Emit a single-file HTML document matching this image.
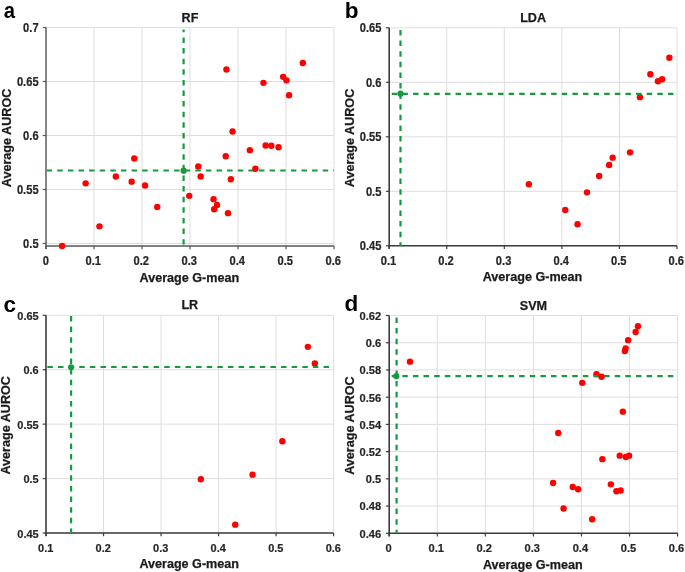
<!DOCTYPE html>
<html><head><meta charset="utf-8"><title>Scatter plots</title>
<style>
html,body{margin:0;padding:0;background:#fff;}
svg{display:block;will-change:transform;}
text{font-family:"Liberation Sans", sans-serif;font-weight:bold;fill:#1a1a1a;}
.t{fill:#262626;stroke:#262626;stroke-width:0.2px;}
.h{font-size:12.6px;stroke:#1a1a1a;stroke-width:0.25px;}
.L{font-size:22.5px;fill:#000;}
</style></head><body>
<svg width="685" height="572" viewBox="0 0 685 572">
<rect width="685" height="572" fill="#fff"/>
<line x1="94" y1="27.5" x2="94" y2="246" stroke="#dedede" stroke-width="1"/>
<line x1="142" y1="27.5" x2="142" y2="246" stroke="#dedede" stroke-width="1"/>
<line x1="190" y1="27.5" x2="190" y2="246" stroke="#dedede" stroke-width="1"/>
<line x1="238" y1="27.5" x2="238" y2="246" stroke="#dedede" stroke-width="1"/>
<line x1="286" y1="27.5" x2="286" y2="246" stroke="#dedede" stroke-width="1"/>
<line x1="334" y1="27.5" x2="334" y2="246" stroke="#dedede" stroke-width="1"/>
<line x1="46" y1="243.5" x2="334" y2="243.5" stroke="#dedede" stroke-width="1"/>
<line x1="46" y1="189.5" x2="334" y2="189.5" stroke="#dedede" stroke-width="1"/>
<line x1="46" y1="135.5" x2="334" y2="135.5" stroke="#dedede" stroke-width="1"/>
<line x1="46" y1="81.5" x2="334" y2="81.5" stroke="#dedede" stroke-width="1"/>
<line x1="46" y1="27.5" x2="334" y2="27.5" stroke="#dedede" stroke-width="1"/>
<line x1="46" y1="27.5" x2="46" y2="249" stroke="#575757" stroke-width="1.45"/>
<line x1="45.2" y1="246" x2="334" y2="246" stroke="#575757" stroke-width="1.45"/>
<line x1="42.7" y1="243.5" x2="46" y2="243.5" stroke="#575757" stroke-width="1.2"/>
<line x1="42.7" y1="189.5" x2="46" y2="189.5" stroke="#575757" stroke-width="1.2"/>
<line x1="42.7" y1="135.5" x2="46" y2="135.5" stroke="#575757" stroke-width="1.2"/>
<line x1="42.7" y1="81.5" x2="46" y2="81.5" stroke="#575757" stroke-width="1.2"/>
<line x1="42.7" y1="27.5" x2="46" y2="27.5" stroke="#575757" stroke-width="1.2"/>
<line x1="46" y1="246" x2="46" y2="249.2" stroke="#575757" stroke-width="1.2"/>
<line x1="94" y1="246" x2="94" y2="249.2" stroke="#575757" stroke-width="1.2"/>
<line x1="142" y1="246" x2="142" y2="249.2" stroke="#575757" stroke-width="1.2"/>
<line x1="190" y1="246" x2="190" y2="249.2" stroke="#575757" stroke-width="1.2"/>
<line x1="238" y1="246" x2="238" y2="249.2" stroke="#575757" stroke-width="1.2"/>
<line x1="286" y1="246" x2="286" y2="249.2" stroke="#575757" stroke-width="1.2"/>
<line x1="334" y1="246" x2="334" y2="249.2" stroke="#575757" stroke-width="1.2"/>
<circle cx="62.05" cy="246.05" r="3.2" fill="#ff0000"/>
<circle cx="85.65" cy="183.35" r="3.2" fill="#ff0000"/>
<circle cx="99.45" cy="226.35" r="3.2" fill="#ff0000"/>
<circle cx="115.85" cy="176.55" r="3.2" fill="#ff0000"/>
<circle cx="134.25" cy="158.45" r="3.2" fill="#ff0000"/>
<circle cx="131.65" cy="181.65" r="3.2" fill="#ff0000"/>
<circle cx="145.05" cy="185.55" r="3.2" fill="#ff0000"/>
<circle cx="157.25" cy="207.05" r="3.2" fill="#ff0000"/>
<circle cx="189.25" cy="195.85" r="3.2" fill="#ff0000"/>
<circle cx="198.25" cy="166.55" r="3.2" fill="#ff0000"/>
<circle cx="200.65" cy="176.55" r="3.2" fill="#ff0000"/>
<circle cx="225.75" cy="156.25" r="3.2" fill="#ff0000"/>
<circle cx="230.85" cy="179.25" r="3.2" fill="#ff0000"/>
<circle cx="213.55" cy="199.15" r="3.2" fill="#ff0000"/>
<circle cx="217.05" cy="205.05" r="3.2" fill="#ff0000"/>
<circle cx="214.15" cy="209.25" r="3.2" fill="#ff0000"/>
<circle cx="227.95" cy="213.15" r="3.2" fill="#ff0000"/>
<circle cx="249.85" cy="150.15" r="3.2" fill="#ff0000"/>
<circle cx="265.65" cy="145.55" r="3.2" fill="#ff0000"/>
<circle cx="271.35" cy="145.75" r="3.2" fill="#ff0000"/>
<circle cx="278.55" cy="147.25" r="3.2" fill="#ff0000"/>
<circle cx="226.45" cy="69.45" r="3.2" fill="#ff0000"/>
<circle cx="263.45" cy="82.85" r="3.2" fill="#ff0000"/>
<circle cx="283.15" cy="76.85" r="3.2" fill="#ff0000"/>
<circle cx="286.45" cy="80.35" r="3.2" fill="#ff0000"/>
<circle cx="302.85" cy="63.05" r="3.2" fill="#ff0000"/>
<circle cx="289.05" cy="95.25" r="3.2" fill="#ff0000"/>
<circle cx="232.55" cy="131.45" r="3.2" fill="#ff0000"/>
<line x1="183.6" y1="29.5" x2="183.6" y2="244.5" stroke="#17993f" stroke-width="2.2" stroke-dasharray="5.5 5.119999999999999" stroke-dashoffset="2.72"/>
<line x1="46.6" y1="170.5" x2="334" y2="170.5" stroke="#17993f" stroke-width="2.2" stroke-dasharray="5.5 5.119999999999999" stroke-dashoffset="0.00"/>
<circle cx="183.6" cy="170.7" r="3.1" fill="#17993f"/>
<circle cx="255.35" cy="168.75" r="3.2" fill="#ff0000"/>
<text transform="translate(38.6,247.8) scale(0.93,1)" text-anchor="end" class="t" font-size="12">0.5</text>
<text transform="translate(38.6,193.8) scale(0.93,1)" text-anchor="end" class="t" font-size="12">0.55</text>
<text transform="translate(38.6,139.8) scale(0.93,1)" text-anchor="end" class="t" font-size="12">0.6</text>
<text transform="translate(38.6,85.8) scale(0.93,1)" text-anchor="end" class="t" font-size="12">0.65</text>
<text transform="translate(38.6,31.8) scale(0.93,1)" text-anchor="end" class="t" font-size="12">0.7</text>
<text transform="translate(45.9,264.6) scale(0.93,1)" text-anchor="middle" class="t" font-size="12">0</text>
<text transform="translate(93.3,264.6) scale(0.93,1)" text-anchor="middle" class="t" font-size="12">0.1</text>
<text transform="translate(141.3,264.6) scale(0.93,1)" text-anchor="middle" class="t" font-size="12">0.2</text>
<text transform="translate(189.3,264.6) scale(0.93,1)" text-anchor="middle" class="t" font-size="12">0.3</text>
<text transform="translate(237.3,264.6) scale(0.93,1)" text-anchor="middle" class="t" font-size="12">0.4</text>
<text transform="translate(285.3,264.6) scale(0.93,1)" text-anchor="middle" class="t" font-size="12">0.5</text>
<text transform="translate(333.3,264.6) scale(0.93,1)" text-anchor="middle" class="t" font-size="12">0.6</text>
<text x="190" y="21.7" text-anchor="middle" class="h">RF</text>
<text x="189.4" y="281.6" text-anchor="middle" class="h">Average G-mean</text>
<text transform="translate(10.5,137.95) rotate(-90)" text-anchor="middle" class="h">Average AUROC</text>
<text transform="translate(3.7,17.5) scale(0.9,1)" class="L">a</text>
<line x1="446.76" y1="27.8" x2="446.76" y2="245.8" stroke="#dedede" stroke-width="1"/>
<line x1="504.32" y1="27.8" x2="504.32" y2="245.8" stroke="#dedede" stroke-width="1"/>
<line x1="561.88" y1="27.8" x2="561.88" y2="245.8" stroke="#dedede" stroke-width="1"/>
<line x1="619.44" y1="27.8" x2="619.44" y2="245.8" stroke="#dedede" stroke-width="1"/>
<line x1="677" y1="27.8" x2="677" y2="245.8" stroke="#dedede" stroke-width="1"/>
<line x1="389.2" y1="245.8" x2="677" y2="245.8" stroke="#dedede" stroke-width="1"/>
<line x1="389.2" y1="191.3" x2="677" y2="191.3" stroke="#dedede" stroke-width="1"/>
<line x1="389.2" y1="136.8" x2="677" y2="136.8" stroke="#dedede" stroke-width="1"/>
<line x1="389.2" y1="82.3" x2="677" y2="82.3" stroke="#dedede" stroke-width="1"/>
<line x1="389.2" y1="27.8" x2="677" y2="27.8" stroke="#dedede" stroke-width="1"/>
<line x1="389.2" y1="27.8" x2="389.2" y2="248.8" stroke="#3c3c3c" stroke-width="1.6"/>
<line x1="388.4" y1="245.8" x2="677" y2="245.8" stroke="#3c3c3c" stroke-width="1.6"/>
<line x1="385.9" y1="245.8" x2="389.2" y2="245.8" stroke="#3c3c3c" stroke-width="1.2"/>
<line x1="385.9" y1="191.3" x2="389.2" y2="191.3" stroke="#3c3c3c" stroke-width="1.2"/>
<line x1="385.9" y1="136.8" x2="389.2" y2="136.8" stroke="#3c3c3c" stroke-width="1.2"/>
<line x1="385.9" y1="82.3" x2="389.2" y2="82.3" stroke="#3c3c3c" stroke-width="1.2"/>
<line x1="385.9" y1="27.8" x2="389.2" y2="27.8" stroke="#3c3c3c" stroke-width="1.2"/>
<line x1="389.2" y1="245.8" x2="389.2" y2="249" stroke="#3c3c3c" stroke-width="1.2"/>
<line x1="446.76" y1="245.8" x2="446.76" y2="249" stroke="#3c3c3c" stroke-width="1.2"/>
<line x1="504.32" y1="245.8" x2="504.32" y2="249" stroke="#3c3c3c" stroke-width="1.2"/>
<line x1="561.88" y1="245.8" x2="561.88" y2="249" stroke="#3c3c3c" stroke-width="1.2"/>
<line x1="619.44" y1="245.8" x2="619.44" y2="249" stroke="#3c3c3c" stroke-width="1.2"/>
<line x1="677" y1="245.8" x2="677" y2="249" stroke="#3c3c3c" stroke-width="1.2"/>
<circle cx="669.35" cy="57.75" r="3.2" fill="#ff0000"/>
<circle cx="650.35" cy="74.25" r="3.2" fill="#ff0000"/>
<circle cx="657.95" cy="81.25" r="3.2" fill="#ff0000"/>
<circle cx="662.15" cy="79.25" r="3.2" fill="#ff0000"/>
<circle cx="639.95" cy="97.15" r="3.2" fill="#ff0000"/>
<circle cx="528.85" cy="184.25" r="3.2" fill="#ff0000"/>
<circle cx="565.25" cy="209.95" r="3.2" fill="#ff0000"/>
<circle cx="577.55" cy="224.25" r="3.2" fill="#ff0000"/>
<circle cx="586.95" cy="192.35" r="3.2" fill="#ff0000"/>
<circle cx="599.15" cy="176.05" r="3.2" fill="#ff0000"/>
<circle cx="609.15" cy="164.95" r="3.2" fill="#ff0000"/>
<circle cx="612.65" cy="157.65" r="3.2" fill="#ff0000"/>
<circle cx="630.05" cy="152.35" r="3.2" fill="#ff0000"/>
<line x1="400.5" y1="29.9" x2="400.5" y2="245.8" stroke="#17993f" stroke-width="2.2" stroke-dasharray="5.5 5.119999999999999" stroke-dashoffset="0.00"/>
<line x1="391.8" y1="93.8" x2="677" y2="93.8" stroke="#17993f" stroke-width="2.2" stroke-dasharray="5.5 5.119999999999999" stroke-dashoffset="0.00"/>
<circle cx="400.5" cy="93.7" r="3.1" fill="#17993f"/>
<text transform="translate(381.4,250.1) scale(0.93,1)" text-anchor="end" class="t" font-size="12">0.45</text>
<text transform="translate(381.4,195.6) scale(0.93,1)" text-anchor="end" class="t" font-size="12">0.5</text>
<text transform="translate(381.4,141.1) scale(0.93,1)" text-anchor="end" class="t" font-size="12">0.55</text>
<text transform="translate(381.4,86.6) scale(0.93,1)" text-anchor="end" class="t" font-size="12">0.6</text>
<text transform="translate(381.4,32.1) scale(0.93,1)" text-anchor="end" class="t" font-size="12">0.65</text>
<text transform="translate(388.5,264.6) scale(0.93,1)" text-anchor="middle" class="t" font-size="12">0.1</text>
<text transform="translate(446.06,264.6) scale(0.93,1)" text-anchor="middle" class="t" font-size="12">0.2</text>
<text transform="translate(503.62,264.6) scale(0.93,1)" text-anchor="middle" class="t" font-size="12">0.3</text>
<text transform="translate(561.18,264.6) scale(0.93,1)" text-anchor="middle" class="t" font-size="12">0.4</text>
<text transform="translate(618.74,264.6) scale(0.93,1)" text-anchor="middle" class="t" font-size="12">0.5</text>
<text transform="translate(676.3,264.6) scale(0.93,1)" text-anchor="middle" class="t" font-size="12">0.6</text>
<text x="533.1" y="21.7" text-anchor="middle" class="h">LDA</text>
<text x="532.5" y="280.7" text-anchor="middle" class="h">Average G-mean</text>
<text transform="translate(353.5,138) rotate(-90)" text-anchor="middle" class="h">Average AUROC</text>
<text transform="translate(344.8,17.6) scale(1.0,1)" class="L">b</text>
<line x1="103.52" y1="315.3" x2="103.52" y2="533" stroke="#dedede" stroke-width="1"/>
<line x1="161.04" y1="315.3" x2="161.04" y2="533" stroke="#dedede" stroke-width="1"/>
<line x1="218.56" y1="315.3" x2="218.56" y2="533" stroke="#dedede" stroke-width="1"/>
<line x1="276.08" y1="315.3" x2="276.08" y2="533" stroke="#dedede" stroke-width="1"/>
<line x1="333.6" y1="315.3" x2="333.6" y2="533" stroke="#dedede" stroke-width="1"/>
<line x1="46" y1="533" x2="333.6" y2="533" stroke="#dedede" stroke-width="1"/>
<line x1="46" y1="478.58" x2="333.6" y2="478.58" stroke="#dedede" stroke-width="1"/>
<line x1="46" y1="424.15" x2="333.6" y2="424.15" stroke="#dedede" stroke-width="1"/>
<line x1="46" y1="369.73" x2="333.6" y2="369.73" stroke="#dedede" stroke-width="1"/>
<line x1="46" y1="315.3" x2="333.6" y2="315.3" stroke="#dedede" stroke-width="1"/>
<line x1="46" y1="315.3" x2="46" y2="536" stroke="#3c3c3c" stroke-width="1.6"/>
<line x1="45.2" y1="533" x2="333.6" y2="533" stroke="#3c3c3c" stroke-width="1.6"/>
<line x1="42.7" y1="533" x2="46" y2="533" stroke="#3c3c3c" stroke-width="1.2"/>
<line x1="42.7" y1="478.58" x2="46" y2="478.58" stroke="#3c3c3c" stroke-width="1.2"/>
<line x1="42.7" y1="424.15" x2="46" y2="424.15" stroke="#3c3c3c" stroke-width="1.2"/>
<line x1="42.7" y1="369.73" x2="46" y2="369.73" stroke="#3c3c3c" stroke-width="1.2"/>
<line x1="42.7" y1="315.3" x2="46" y2="315.3" stroke="#3c3c3c" stroke-width="1.2"/>
<line x1="46" y1="533" x2="46" y2="536.2" stroke="#3c3c3c" stroke-width="1.2"/>
<line x1="103.52" y1="533" x2="103.52" y2="536.2" stroke="#3c3c3c" stroke-width="1.2"/>
<line x1="161.04" y1="533" x2="161.04" y2="536.2" stroke="#3c3c3c" stroke-width="1.2"/>
<line x1="218.56" y1="533" x2="218.56" y2="536.2" stroke="#3c3c3c" stroke-width="1.2"/>
<line x1="276.08" y1="533" x2="276.08" y2="536.2" stroke="#3c3c3c" stroke-width="1.2"/>
<line x1="333.6" y1="533" x2="333.6" y2="536.2" stroke="#3c3c3c" stroke-width="1.2"/>
<circle cx="200.85" cy="479.25" r="3.2" fill="#ff0000"/>
<circle cx="235.25" cy="524.65" r="3.2" fill="#ff0000"/>
<circle cx="252.55" cy="474.65" r="3.2" fill="#ff0000"/>
<circle cx="282.35" cy="441.25" r="3.2" fill="#ff0000"/>
<circle cx="307.85" cy="346.85" r="3.2" fill="#ff0000"/>
<circle cx="314.85" cy="363.45" r="3.2" fill="#ff0000"/>
<line x1="71.1" y1="316" x2="71.1" y2="533" stroke="#17993f" stroke-width="2.2" stroke-dasharray="5.5 5.119999999999999" stroke-dashoffset="0.00"/>
<line x1="47.4" y1="367" x2="333.6" y2="367" stroke="#17993f" stroke-width="2.2" stroke-dasharray="5.5 5.119999999999999" stroke-dashoffset="0.00"/>
<circle cx="71.1" cy="367.3" r="3.1" fill="#17993f"/>
<text transform="translate(38.7,537.6) scale(0.94,1)" text-anchor="end" class="t" font-size="11.7">0.45</text>
<text transform="translate(38.7,483.18) scale(0.94,1)" text-anchor="end" class="t" font-size="11.7">0.5</text>
<text transform="translate(38.7,428.75) scale(0.94,1)" text-anchor="end" class="t" font-size="11.7">0.55</text>
<text transform="translate(38.7,374.33) scale(0.94,1)" text-anchor="end" class="t" font-size="11.7">0.6</text>
<text transform="translate(38.7,319.9) scale(0.94,1)" text-anchor="end" class="t" font-size="11.7">0.65</text>
<text transform="translate(45.7,551.7) scale(0.94,1)" text-anchor="middle" class="t" font-size="11.7">0.1</text>
<text transform="translate(103.22,551.7) scale(0.94,1)" text-anchor="middle" class="t" font-size="11.7">0.2</text>
<text transform="translate(160.74,551.7) scale(0.94,1)" text-anchor="middle" class="t" font-size="11.7">0.3</text>
<text transform="translate(218.26,551.7) scale(0.94,1)" text-anchor="middle" class="t" font-size="11.7">0.4</text>
<text transform="translate(275.78,551.7) scale(0.94,1)" text-anchor="middle" class="t" font-size="11.7">0.5</text>
<text transform="translate(333.3,551.7) scale(0.94,1)" text-anchor="middle" class="t" font-size="11.7">0.6</text>
<text x="189.8" y="309.1" text-anchor="middle" class="h">LR</text>
<text x="189.2" y="568.4" text-anchor="middle" class="h">Average G-mean</text>
<text transform="translate(10,425.35) rotate(-90)" text-anchor="middle" class="h">Average AUROC</text>
<text transform="translate(3.6,311.6) scale(1.0,1)" class="L">c</text>
<line x1="437.27" y1="315.5" x2="437.27" y2="533.3" stroke="#dedede" stroke-width="1"/>
<line x1="485.33" y1="315.5" x2="485.33" y2="533.3" stroke="#dedede" stroke-width="1"/>
<line x1="533.4" y1="315.5" x2="533.4" y2="533.3" stroke="#dedede" stroke-width="1"/>
<line x1="581.47" y1="315.5" x2="581.47" y2="533.3" stroke="#dedede" stroke-width="1"/>
<line x1="629.53" y1="315.5" x2="629.53" y2="533.3" stroke="#dedede" stroke-width="1"/>
<line x1="677.6" y1="315.5" x2="677.6" y2="533.3" stroke="#dedede" stroke-width="1"/>
<line x1="389.2" y1="533.3" x2="677.6" y2="533.3" stroke="#dedede" stroke-width="1"/>
<line x1="389.2" y1="506.07" x2="677.6" y2="506.07" stroke="#dedede" stroke-width="1"/>
<line x1="389.2" y1="478.85" x2="677.6" y2="478.85" stroke="#dedede" stroke-width="1"/>
<line x1="389.2" y1="451.62" x2="677.6" y2="451.62" stroke="#dedede" stroke-width="1"/>
<line x1="389.2" y1="424.4" x2="677.6" y2="424.4" stroke="#dedede" stroke-width="1"/>
<line x1="389.2" y1="397.17" x2="677.6" y2="397.17" stroke="#dedede" stroke-width="1"/>
<line x1="389.2" y1="369.95" x2="677.6" y2="369.95" stroke="#dedede" stroke-width="1"/>
<line x1="389.2" y1="342.73" x2="677.6" y2="342.73" stroke="#dedede" stroke-width="1"/>
<line x1="389.2" y1="315.5" x2="677.6" y2="315.5" stroke="#dedede" stroke-width="1"/>
<line x1="389.2" y1="315.5" x2="389.2" y2="536.3" stroke="#3c3c3c" stroke-width="1.6"/>
<line x1="388.4" y1="533.3" x2="677.6" y2="533.3" stroke="#3c3c3c" stroke-width="1.6"/>
<line x1="385.9" y1="533.3" x2="389.2" y2="533.3" stroke="#3c3c3c" stroke-width="1.2"/>
<line x1="385.9" y1="506.07" x2="389.2" y2="506.07" stroke="#3c3c3c" stroke-width="1.2"/>
<line x1="385.9" y1="478.85" x2="389.2" y2="478.85" stroke="#3c3c3c" stroke-width="1.2"/>
<line x1="385.9" y1="451.62" x2="389.2" y2="451.62" stroke="#3c3c3c" stroke-width="1.2"/>
<line x1="385.9" y1="424.4" x2="389.2" y2="424.4" stroke="#3c3c3c" stroke-width="1.2"/>
<line x1="385.9" y1="397.17" x2="389.2" y2="397.17" stroke="#3c3c3c" stroke-width="1.2"/>
<line x1="385.9" y1="369.95" x2="389.2" y2="369.95" stroke="#3c3c3c" stroke-width="1.2"/>
<line x1="385.9" y1="342.73" x2="389.2" y2="342.73" stroke="#3c3c3c" stroke-width="1.2"/>
<line x1="385.9" y1="315.5" x2="389.2" y2="315.5" stroke="#3c3c3c" stroke-width="1.2"/>
<line x1="389.2" y1="533.3" x2="389.2" y2="536.5" stroke="#3c3c3c" stroke-width="1.2"/>
<line x1="437.27" y1="533.3" x2="437.27" y2="536.5" stroke="#3c3c3c" stroke-width="1.2"/>
<line x1="485.33" y1="533.3" x2="485.33" y2="536.5" stroke="#3c3c3c" stroke-width="1.2"/>
<line x1="533.4" y1="533.3" x2="533.4" y2="536.5" stroke="#3c3c3c" stroke-width="1.2"/>
<line x1="581.47" y1="533.3" x2="581.47" y2="536.5" stroke="#3c3c3c" stroke-width="1.2"/>
<line x1="629.53" y1="533.3" x2="629.53" y2="536.5" stroke="#3c3c3c" stroke-width="1.2"/>
<line x1="677.6" y1="533.3" x2="677.6" y2="536.5" stroke="#3c3c3c" stroke-width="1.2"/>
<circle cx="409.95" cy="361.65" r="3.2" fill="#ff0000"/>
<circle cx="582.25" cy="382.85" r="3.2" fill="#ff0000"/>
<circle cx="596.45" cy="374.15" r="3.2" fill="#ff0000"/>
<circle cx="622.85" cy="411.65" r="3.2" fill="#ff0000"/>
<circle cx="558.25" cy="432.95" r="3.2" fill="#ff0000"/>
<circle cx="553.05" cy="482.95" r="3.2" fill="#ff0000"/>
<circle cx="563.55" cy="508.45" r="3.2" fill="#ff0000"/>
<circle cx="572.75" cy="486.95" r="3.2" fill="#ff0000"/>
<circle cx="578.15" cy="489.25" r="3.2" fill="#ff0000"/>
<circle cx="592.15" cy="519.25" r="3.2" fill="#ff0000"/>
<circle cx="602.35" cy="459.15" r="3.2" fill="#ff0000"/>
<circle cx="610.85" cy="484.35" r="3.2" fill="#ff0000"/>
<circle cx="616.45" cy="491.25" r="3.2" fill="#ff0000"/>
<circle cx="620.65" cy="490.45" r="3.2" fill="#ff0000"/>
<circle cx="619.75" cy="455.65" r="3.2" fill="#ff0000"/>
<circle cx="625.95" cy="457.05" r="3.2" fill="#ff0000"/>
<circle cx="629.05" cy="455.65" r="3.2" fill="#ff0000"/>
<circle cx="637.95" cy="326.25" r="3.2" fill="#ff0000"/>
<circle cx="635.65" cy="331.95" r="3.2" fill="#ff0000"/>
<circle cx="628.15" cy="340.15" r="3.2" fill="#ff0000"/>
<circle cx="625.65" cy="348.55" r="3.2" fill="#ff0000"/>
<circle cx="624.85" cy="351.05" r="3.2" fill="#ff0000"/>
<line x1="396.6" y1="317.4" x2="396.6" y2="533.3" stroke="#17993f" stroke-width="2.2" stroke-dasharray="5.5 5.119999999999999" stroke-dashoffset="0.00"/>
<line x1="391.7" y1="376.2" x2="677.6" y2="376.2" stroke="#17993f" stroke-width="2.2" stroke-dasharray="5.5 5.119999999999999" stroke-dashoffset="0.00"/>
<circle cx="396.3" cy="376.2" r="3.1" fill="#17993f"/>
<circle cx="601.55" cy="376.75" r="3.2" fill="#ff0000"/>
<text transform="translate(381.2,537.7) scale(0.96,1)" text-anchor="end" class="t" font-size="11.6">0.46</text>
<text transform="translate(381.2,510.47) scale(0.96,1)" text-anchor="end" class="t" font-size="11.6">0.48</text>
<text transform="translate(381.2,483.25) scale(0.96,1)" text-anchor="end" class="t" font-size="11.6">0.5</text>
<text transform="translate(381.2,456.02) scale(0.96,1)" text-anchor="end" class="t" font-size="11.6">0.52</text>
<text transform="translate(381.2,428.8) scale(0.96,1)" text-anchor="end" class="t" font-size="11.6">0.54</text>
<text transform="translate(381.2,401.57) scale(0.96,1)" text-anchor="end" class="t" font-size="11.6">0.56</text>
<text transform="translate(381.2,374.35) scale(0.96,1)" text-anchor="end" class="t" font-size="11.6">0.58</text>
<text transform="translate(381.2,347.12) scale(0.96,1)" text-anchor="end" class="t" font-size="11.6">0.6</text>
<text transform="translate(381.2,319.9) scale(0.96,1)" text-anchor="end" class="t" font-size="11.6">0.62</text>
<text transform="translate(388.7,551.9) scale(0.96,1)" text-anchor="middle" class="t" font-size="11.6">0</text>
<text transform="translate(436.17,551.9) scale(0.96,1)" text-anchor="middle" class="t" font-size="11.6">0.1</text>
<text transform="translate(484.23,551.9) scale(0.96,1)" text-anchor="middle" class="t" font-size="11.6">0.2</text>
<text transform="translate(532.3,551.9) scale(0.96,1)" text-anchor="middle" class="t" font-size="11.6">0.3</text>
<text transform="translate(580.37,551.9) scale(0.96,1)" text-anchor="middle" class="t" font-size="11.6">0.4</text>
<text transform="translate(628.43,551.9) scale(0.96,1)" text-anchor="middle" class="t" font-size="11.6">0.5</text>
<text transform="translate(676.5,551.9) scale(0.96,1)" text-anchor="middle" class="t" font-size="11.6">0.6</text>
<text x="533.4" y="310" text-anchor="middle" class="h">SVM</text>
<text x="532.8" y="568.5" text-anchor="middle" class="h">Average G-mean</text>
<text transform="translate(353.6,425.6) rotate(-90)" text-anchor="middle" class="h">Average AUROC</text>
<text transform="translate(344.4,311.1) scale(1.0,1)" class="L">d</text>
</svg>
</body></html>
